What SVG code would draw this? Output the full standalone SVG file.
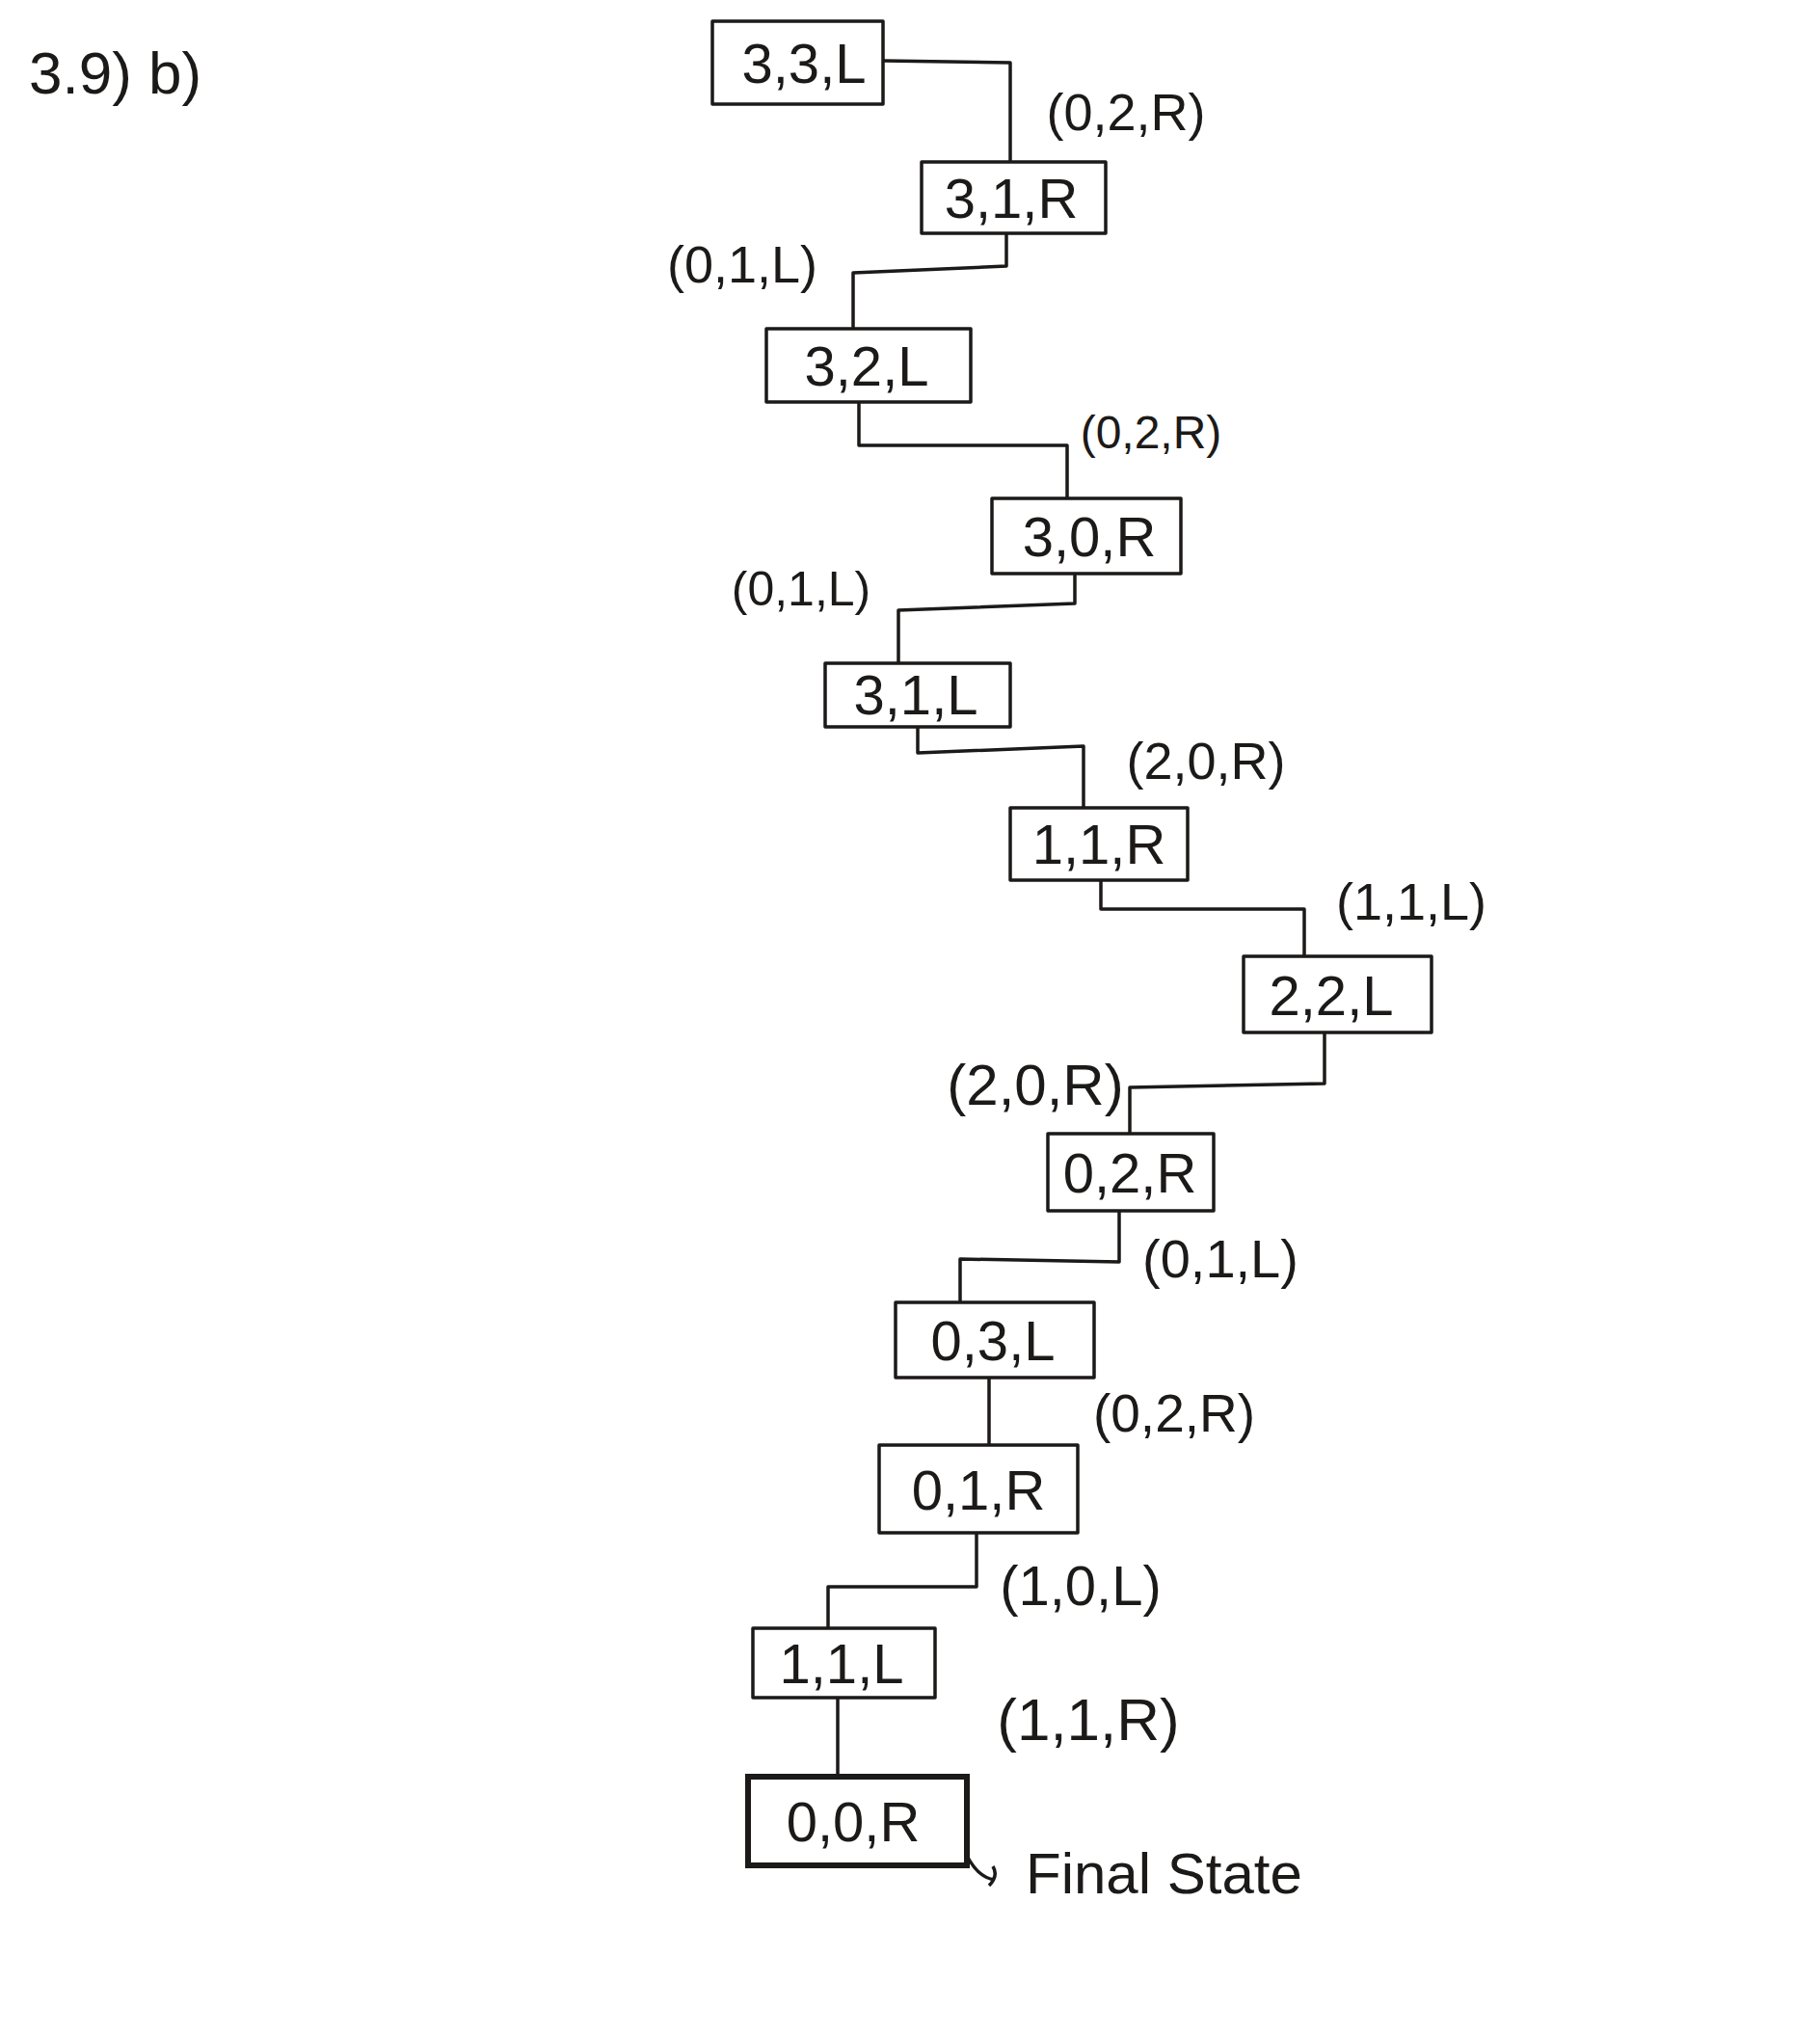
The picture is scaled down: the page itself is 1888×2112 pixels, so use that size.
<svg xmlns="http://www.w3.org/2000/svg" width="1888" height="2112" viewBox="0 0 1888 2112">
<style>
.box{fill:none;stroke:#1c1a18;stroke-width:3.5;stroke-linejoin:round}
.bold{fill:none;stroke:#1c1a18;stroke-width:6}
.node{font-family:"Liberation Sans",Arial,sans-serif;font-size:58px;fill:#1c1a18;text-anchor:middle}
.lbl{font-family:"Liberation Sans",Arial,sans-serif;fill:#1c1a18;text-anchor:middle}
.edge{fill:none;stroke:#1c1a18;stroke-width:3.5;stroke-linejoin:round}
</style>
<rect width="1888" height="2112" fill="#ffffff"/>
<text x="30" y="97" style="font-family:'Liberation Sans',Arial,sans-serif;font-size:62px;fill:#1c1a18">3.9) b)</text>

<g id="connectors">
<polyline class="edge" points="916,63 1048,65 1048,168"/>
<polyline class="edge" points="1044,242 1044,276 885,283 885,341"/>
<polyline class="edge" points="891,417 891,462 1107,462 1107,517"/>
<polyline class="edge" points="1115,595 1115,626 932,633 932,688"/>
<polyline class="edge" points="952,754 952,781 1124,774 1124,838"/>
<polyline class="edge" points="1142,913 1142,943 1353,943 1353,992"/>
<polyline class="edge" points="1374,1071 1374,1124 1172,1128 1172,1176"/>
<polyline class="edge" points="1161,1256 1161,1309 996,1306 996,1351"/>
<polyline class="edge" points="1026,1429 1026,1499"/>
<polyline class="edge" points="1013,1590 1013,1646 859,1646 859,1689"/>
<polyline class="edge" points="869,1761 869,1843"/>
</g>

<g id="labels">
<text class="lbl" x="1168" y="135" font-size="54">(0,2,R)</text>
<text class="lbl" x="770" y="293" font-size="54">(0,1,L)</text>
<text class="lbl" x="1194" y="465" font-size="48">(0,2,R)</text>
<text class="lbl" x="831" y="628" font-size="50">(0,1,L)</text>
<text class="lbl" x="1251" y="808" font-size="54">(2,0,R)</text>
<text class="lbl" x="1464" y="954" font-size="54">(1,1,L)</text>
<text class="lbl" x="1074" y="1146" font-size="60">(2,0,R)</text>
<text class="lbl" x="1266" y="1325" font-size="56">(0,1,L)</text>
<text class="lbl" x="1218" y="1485" font-size="55">(0,2,R)</text>
<text class="lbl" x="1121" y="1665" font-size="58">(1,0,L)</text>
<text class="lbl" x="1129" y="1805" font-size="62">(1,1,R)</text>
</g>

<g id="n1"><rect class="box" x="739" y="22" width="177" height="86"/><text class="node" x="834" y="86">3,3,L</text></g>
<g id="n2"><rect class="box" x="956" y="168" width="191" height="74"/><text class="node" x="1049" y="226">3,1,R</text></g>
<g id="n3"><rect class="box" x="795" y="341" width="212" height="76"/><text class="node" x="899" y="400">3,2,L</text></g>
<g id="n4"><rect class="box" x="1029" y="517" width="196" height="78"/><text class="node" x="1130" y="577">3,0,R</text></g>
<g id="n5"><rect class="box" x="856" y="688" width="192" height="66"/><text class="node" x="950" y="741">3,1,L</text></g>
<g id="n6"><rect class="box" x="1048" y="838" width="184" height="75"/><text class="node" x="1140" y="896">1,1,R</text></g>
<g id="n7"><rect class="box" x="1290" y="992" width="195" height="79"/><text class="node" x="1381" y="1053">2,2,L</text></g>
<g id="n8"><rect class="box" x="1087" y="1176" width="172" height="80"/><text class="node" x="1172" y="1237">0,2,R</text></g>
<g id="n9"><rect class="box" x="929" y="1351" width="206" height="78"/><text class="node" x="1030" y="1411">0,3,L</text></g>
<g id="n10"><rect class="box" x="912" y="1499" width="206" height="91"/><text class="node" x="1015" y="1566">0,1,R</text></g>
<g id="n11"><rect class="box" x="781" y="1689" width="189" height="72"/><text class="node" x="873" y="1746">1,1,L</text></g>
<g id="n12"><rect class="bold" x="776" y="1843" width="227" height="92"/><text class="node" x="885" y="1910">0,0,R</text>
<path class="edge" d="M1003,1925 Q1015,1948 1032,1950 M1030,1936 Q1036,1946 1026,1956"/>
<text class="lbl" x="1064" y="1964" font-size="60" style="text-anchor:start">Final State</text></g>
</svg>
